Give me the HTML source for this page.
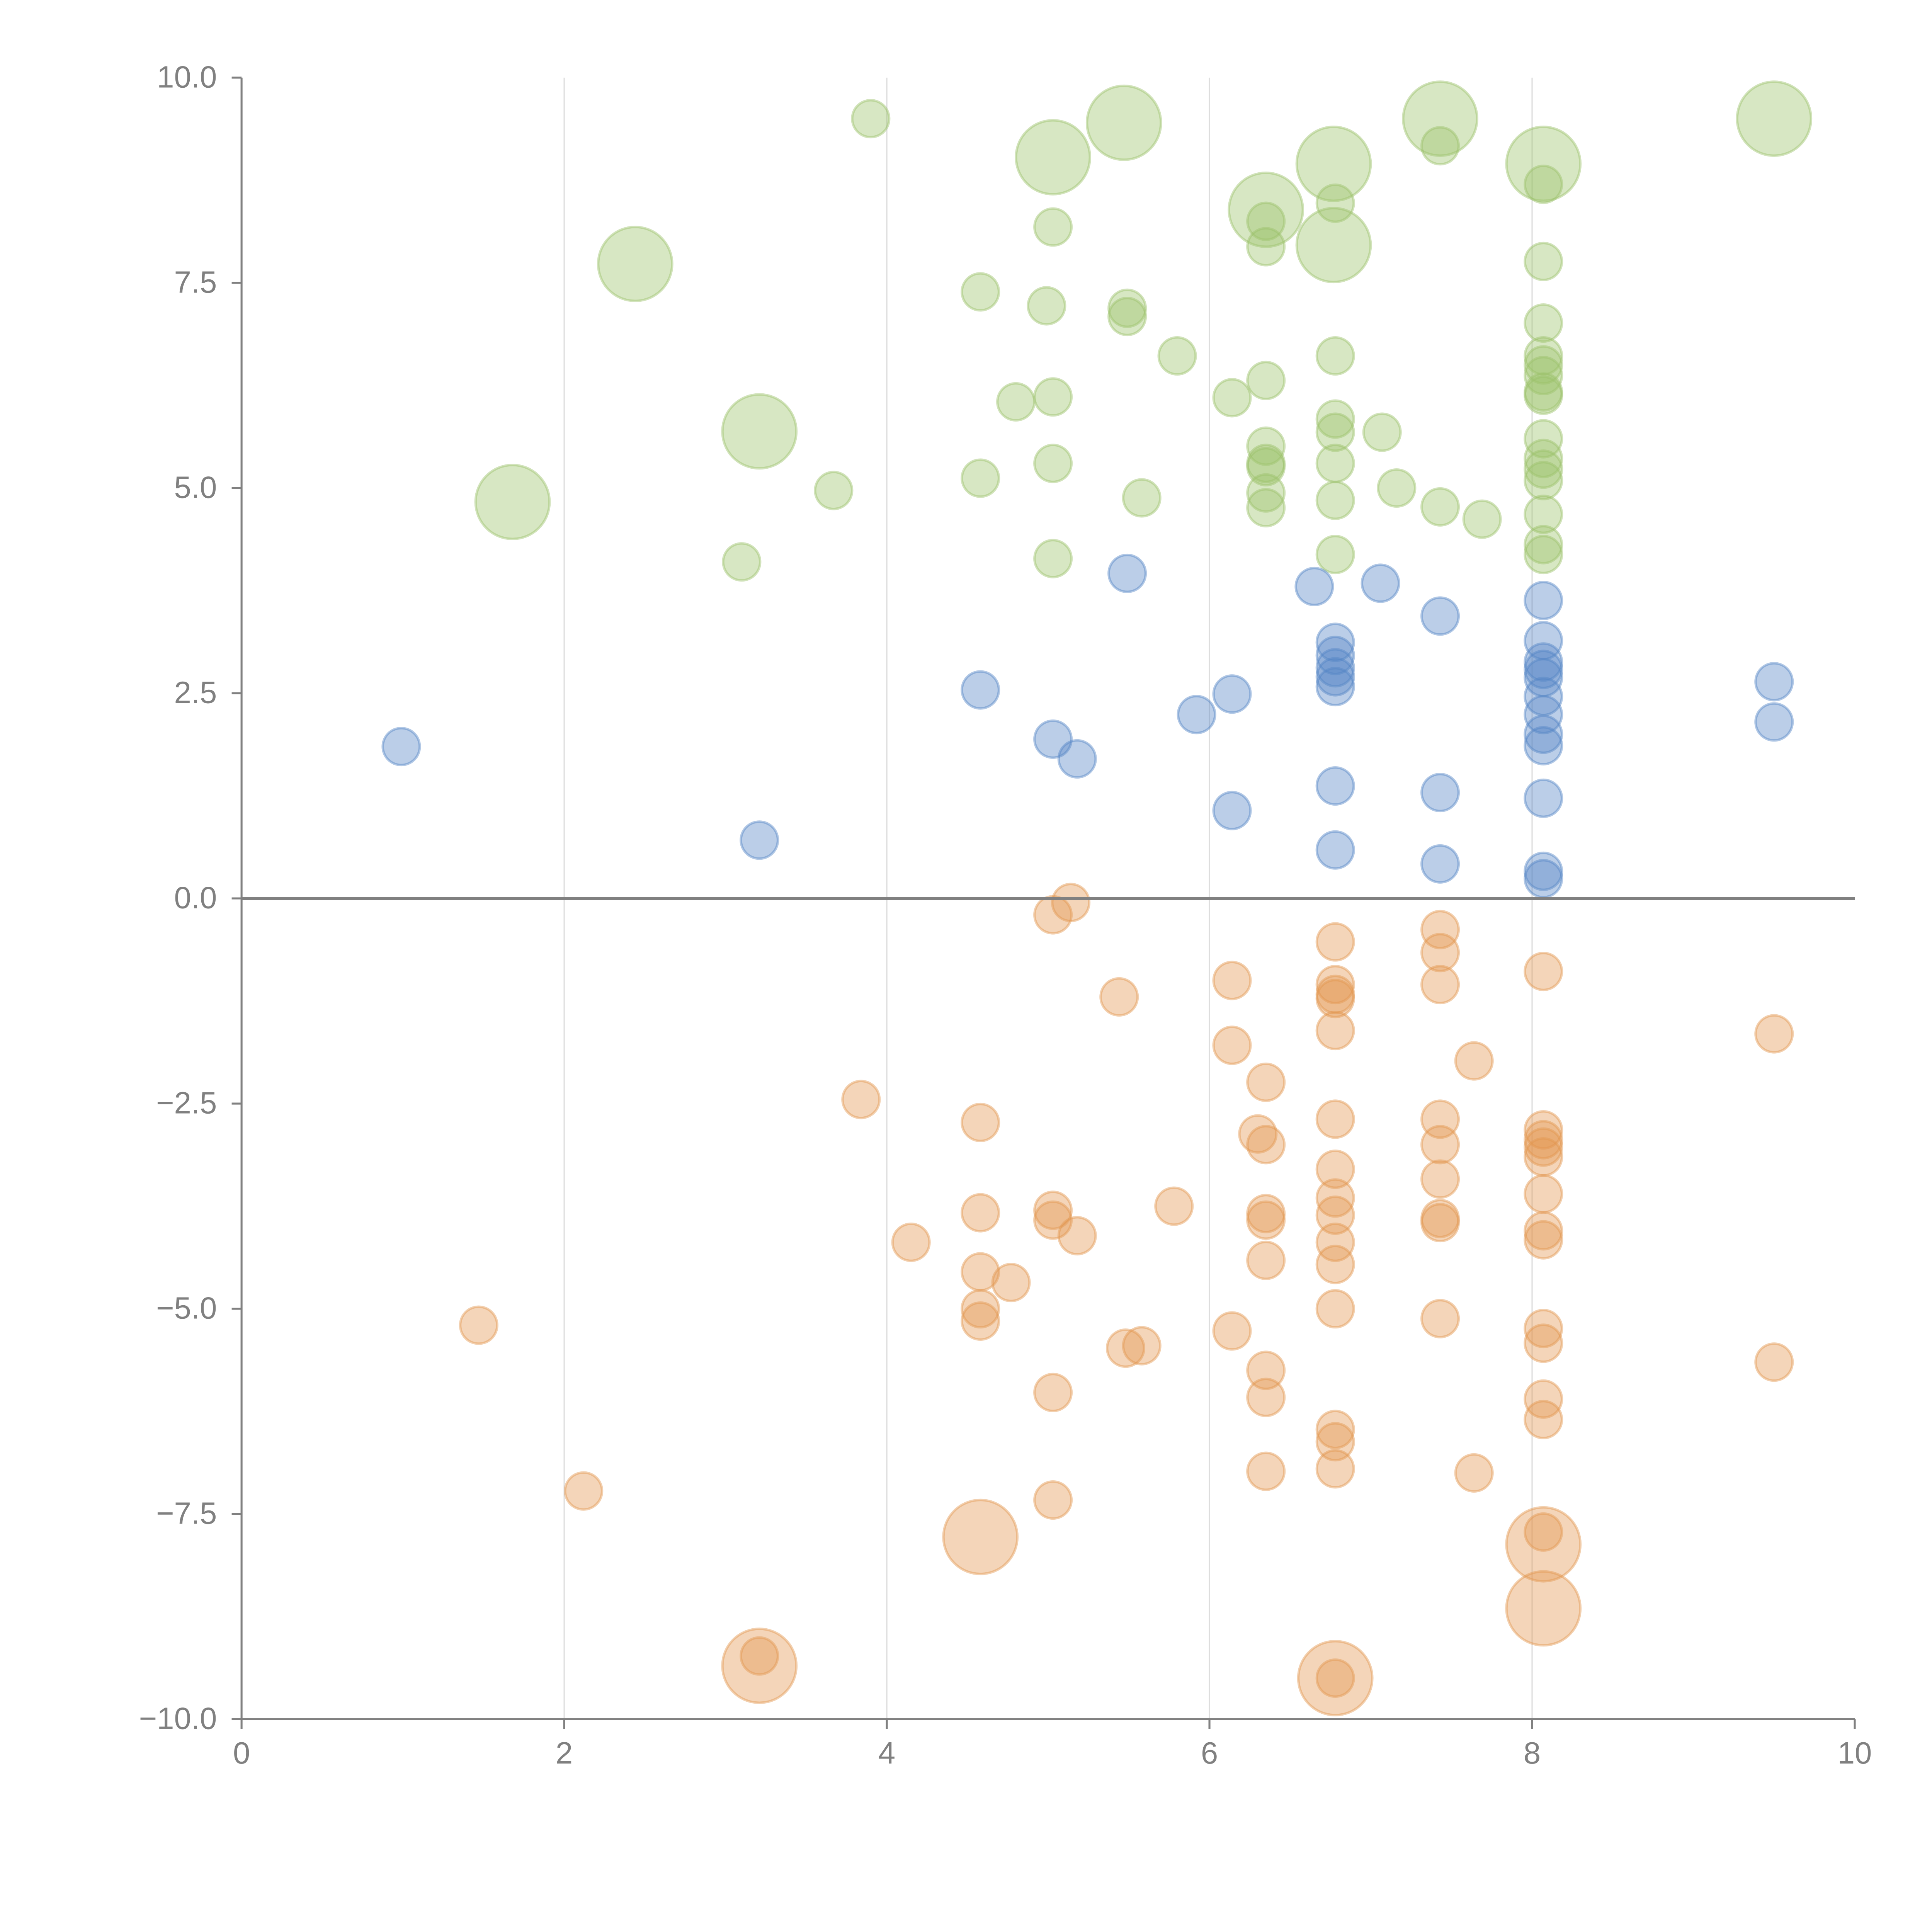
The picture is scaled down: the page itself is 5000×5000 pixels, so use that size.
<!DOCTYPE html>
<html><head><meta charset="utf-8"><style>html,body{margin:0;padding:0;background:#fff}svg{display:block}</style></head>
<body>
<svg id="chart" width="5000" height="5000" viewBox="0 0 1567.7 1567.7" xmlns="http://www.w3.org/2000/svg" font-family="'Liberation Sans', sans-serif">
<g id="grid"></g>
<g id="marks"></g>
<g id="axes"></g>
</svg>
<script>
const xTicks = [0, 2, 4, 6, 8, 10];
const xTickLabels = ["0", "2", "4", "6", "8", "10"];
const yTicks = [-10, -7.5, -5, -2.5, 0, 2.5, 5, 7.5, 10];
const yTickLabels = ["\u221210.0", "\u22127.5", "\u22125.0", "\u22122.5", "0.0", "2.5", "5.0", "7.5", "10.0"];

const greenX = [3.9,5.47,5.03,7.43,7.43,6.77,8.07,9.5,6.78,8.07,6.35,6.35,6.77,6.35,5.03,2.44,8.07,4.58,4.99,5.49,5.49,8.07,5.8,6.78,8.07,8.07,8.07,8.07,8.07,6.35,6.14,4.8,5.03,3.21,6.78,6.78,7.07,8.07,6.35,6.35,6.35,6.78,5.03,8.07,8.07,8.07,4.58,7.16,3.67,1.68,6.35,6.35,5.58,6.78,7.43,7.69,8.07,8.07,8.07,6.78,5.03,3.1];
const greenY = [9.5,9.45,9.03,9.5,9.17,8.95,8.95,9.5,8.47,8.7,8.39,8.25,7.96,7.94,8.18,7.73,7.76,7.39,7.22,7.19,7.09,7.01,6.61,6.61,6.61,6.5,6.37,6.17,6.13,6.31,6.1,6.05,6.11,5.69,5.84,5.68,5.68,5.6,5.51,5.3,5.26,5.3,5.3,5.36,5.23,5.09,5.12,5.0,4.97,4.83,4.94,4.76,4.88,4.85,4.77,4.62,4.68,4.31,4.19,4.19,4.14,4.1];
const greenSize = [1,4,4,4,1,4,4,4,1,1,4,1,4,1,1,4,1,1,1,1,1,1,1,1,1,1,1,1,1,1,1,1,1,4,1,1,1,1,1,1,1,1,1,1,1,1,1,1,1,4,1,1,1,1,1,1,1,1,1,1,1,1];

const blueX = [5.49,6.65,7.06,8.07,7.43,6.78,6.78,6.78,6.78,6.78,8.07,8.07,8.07,8.07,8.07,8.07,8.07,8.07,9.5,9.5,4.58,6.14,5.92,0.99,5.03,5.18,6.78,7.43,8.07,6.14,3.21,6.78,7.43,8.07,8.07];
const blueY = [3.96,3.8,3.84,3.63,3.44,3.12,2.96,2.81,2.7,2.58,3.14,2.88,2.79,2.69,2.46,2.24,2.0,1.86,2.64,2.15,2.54,2.49,2.24,1.85,1.94,1.7,1.37,1.29,1.22,1.07,0.71,0.59,0.42,0.33,0.24];
const blueSize = [1,1,1,1,1,1,1,1,1,1,1,1,1,1,1,1,1,1,1,1,1,1,1,1,1,1,1,1,1,1,1,1,1,1,1];

const orangeX = [5.14,5.03,6.78,7.43,7.43,8.07,6.14,6.78,6.78,6.78,7.43,5.44,9.5,6.78,6.14,7.64,6.35,3.84,4.58,6.78,7.43,6.3,6.35,7.43,8.07,8.07,8.07,8.07,6.78,7.43,8.07,6.78,5.78,4.58,5.03,5.03,6.35,6.35,6.78,7.43,7.43,5.18,4.15,8.07,8.07,6.78,6.35,6.78,4.58,4.77,6.78,4.58,4.58,7.43,1.47,6.14,8.07,8.07,5.48,5.58,9.5,6.35,5.03,6.35,8.07,8.07,6.78,6.78,6.35,6.78,7.64,2.12,5.03,8.07,4.58,8.07,8.07,3.21,3.21,6.78,6.78];
const orangeY = [-0.05,-0.2,-0.53,-0.38,-0.66,-0.89,-1.0,-1.05,-1.17,-1.22,-1.05,-1.2,-1.65,-1.61,-1.79,-1.98,-2.24,-2.45,-2.73,-2.69,-2.69,-2.87,-3.0,-3.0,-2.82,-2.94,-3.03,-3.15,-3.3,-3.42,-3.6,-3.65,-3.75,-3.83,-3.8,-3.92,-3.84,-3.92,-3.86,-3.9,-3.95,-4.11,-4.19,-4.05,-4.16,-4.19,-4.41,-4.46,-4.55,-4.68,-5.0,-5.0,-5.15,-5.12,-5.2,-5.27,-5.24,-5.42,-5.48,-5.45,-5.65,-5.75,-6.02,-6.08,-6.1,-6.35,-6.47,-6.62,-6.98,-6.95,-7.0,-7.22,-7.33,-7.72,-7.78,-7.87,-8.65,-9.23,-9.35,-9.5,-9.5];
const orangeSize = [1,1,1,1,1,1,1,1,1,1,1,1,1,1,1,1,1,1,1,1,1,1,1,1,1,1,1,1,1,1,1,1,1,1,1,1,1,1,1,1,1,1,1,1,1,1,1,1,1,1,1,1,1,1,1,1,1,1,1,1,1,1,1,1,1,1,1,1,1,1,1,1,1,1,4,4,4,1,4,4,1];

const NS = "http://www.w3.org/2000/svg";
const X0 = 196, X1 = 1505, Y0 = 1395, Y1 = 63;
function sx(v){ return X0 + (v - 0) / 10 * (X1 - X0); }
function sy(v){ return Y0 - (v + 10) / 20 * (Y0 - Y1); }
function sr(s){ return 15 * Math.sqrt(s); }
function mk(tag, attrs, parent){ const e = document.createElementNS(NS, tag); for (const k in attrs) e.setAttribute(k, attrs[k]); parent.appendChild(e); return e; }

const grid = document.getElementById('grid');
const marks = document.getElementById('marks');
const axes = document.getElementById('axes');

xTicks.forEach((t, i) => {
  if (t > 0 && t < 10) {
    const g = mk('line', {x1: sx(t), x2: sx(t), y1: Y1, y2: Y0, stroke: '#dddddd', 'stroke-width': 1}, grid);
    
    
  }
});

function drawSeries(xs, ys, ss, color, name){
  const g = mk('g', {}, marks);
  
  
  xs.forEach((x, i) => {
    const c = mk('circle', {cx: sx(x), cy: sy(ys[i]), r: sr(ss[i]), fill: color, 'fill-opacity': 0.4, stroke: color, 'stroke-opacity': 0.45, 'stroke-width': 2}, g);
    
    
  });
}
drawSeries(greenX, greenY, greenSize, '#9cc26a', 'green');
drawSeries(blueX, blueY, blueSize, '#5585c6', 'blue');
drawSeries(orangeX, orangeY, orangeSize, '#e3964f', 'orange');

const zl = mk('line', {x1: X0, x2: X1, y1: sy(0), y2: sy(0), stroke: '#808080', 'stroke-width': 2.5}, axes);


const ya = mk('line', {x1: X0, x2: X0, y1: Y1, y2: Y0, stroke: '#808080', 'stroke-width': 1.6}, axes);


const xa = mk('line', {x1: X0 - 8, x2: X1, y1: Y0, y2: Y0, stroke: '#808080', 'stroke-width': 1.6}, axes);



yTicks.forEach((t, i) => {
  const tk = mk('line', {x1: X0 - 8, x2: X0, y1: sy(t), y2: sy(t), stroke: '#808080', 'stroke-width': 1.6}, axes);
  
  
  const tx = mk('text', {x: X0 - 20, y: sy(t) + 8, 'text-anchor': 'end', 'font-size': 25, fill: '#808080'}, axes);
  tx.textContent = yTickLabels[i];
  
  
});
xTicks.forEach((t, i) => {
  const tk = mk('line', {x1: sx(t), x2: sx(t), y1: Y0, y2: Y0 + 8, stroke: '#808080', 'stroke-width': 1.6}, axes);
  
  
  const tx = mk('text', {x: sx(t), y: Y0 + 36, 'text-anchor': 'middle', 'font-size': 25, fill: '#808080'}, axes);
  tx.textContent = xTickLabels[i];
  
  
});
</script>
</body></html>
